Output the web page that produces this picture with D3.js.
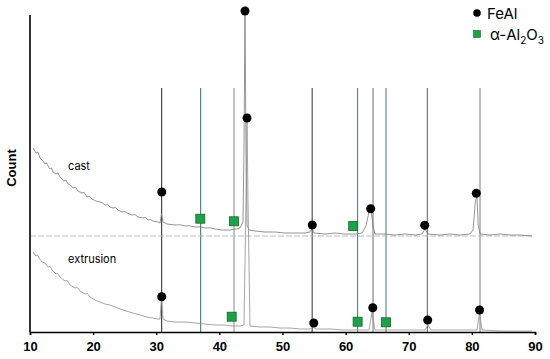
<!DOCTYPE html>
<html>
<head>
<meta charset="utf-8">
<script src="https://cdn.jsdelivr.net/npm/d3@7"></script>
<style>
  body { margin: 0; background: #fff; }
  svg { display: block; }
</style>
</head>
<body>
<script>
// XRD patterns: [2theta, count]
const cast = [
  [10.48,1840],[10.95,1790],[11.27,1800],[11.58,1740],[12.06,1710],[12.38,1680],[12.6,1690],[12.85,1660],
  [13.17,1630],[13.4,1640],[13.64,1600],[14.12,1580],[14.4,1590],[14.75,1550],[15.39,1510],[15.7,1520],
  [16.02,1480],[16.4,1470],[16.81,1440],[17.2,1450],[17.6,1410],[18.24,1390],[18.6,1395],[19.03,1350],
  [19.4,1360],[19.82,1330],[20.46,1310],[21.09,1300],[21.5,1290],[21.88,1270],[22.3,1275],[22.67,1250],
  [23.15,1240],[23.5,1245],[23.94,1220],[24.57,1200],[25.0,1205],[25.37,1190],[26.16,1170],[26.6,1175],
  [27.11,1150],[27.9,1140],[28.3,1145],[28.69,1120],[29.1,1125],[29.49,1110],[30.28,1100],[30.59,1090],
  [30.83,1180],[31.07,1100],[31.7,1080],[32.97,1070],[33.8,1072],[34.55,1060],[35.3,1062],[36.14,1050],
  [37.0,1052],[37.72,1040],[38.5,1042],[39.31,1030],[40.42,1020],[41.68,1020],[42.63,1030],[43.27,1040],
  [43.74,1100],[43.9,1820],[44.06,3210],[44.22,1820],[44.38,1070],[44.69,1020],[45.64,1010],[47.23,1000],
  [48.81,1000],[50.4,990],[51.98,990],[53.56,990],[54.36,1000],[54.67,1030],[54.99,990],[56.73,980],
  [58.32,990],[59.9,980],[61.49,980],[62.59,990],[63.23,1060],[63.7,1200],[64.02,1220],[64.34,1060],
  [64.65,980],[66.24,980],[67.82,970],[69.41,980],[70.99,970],[72.1,980],[72.58,1030],[73.05,980],
  [74.95,970],[76.53,980],[78.12,970],[79.7,980],[80.18,1020],[80.55,1300],[80.81,1360],[81.0,1070],
  [81.3,980],[82.87,970],[84.46,980],[86.04,970],[87.62,970],[89.52,960]
];

const extrusion = [
  [10.48,800],[10.95,760],[11.2,770],[11.43,740],[11.9,700],[12.38,690],[12.85,650],[13.2,655],
  [13.49,620],[14.12,580],[14.4,585],[14.75,550],[15.54,510],[15.9,515],[16.34,470],[17.13,440],
  [17.5,445],[17.92,410],[18.71,380],[19.1,385],[19.5,350],[20.3,320],[21.09,300],[21.88,280],
  [22.67,270],[23.47,250],[24.26,230],[25.21,210],[26.32,190],[27.43,170],[28.53,150],[29.49,140],
  [30.28,130],[30.59,130],[30.83,340],[31.07,130],[31.7,110],[32.97,100],[34.55,100],[36.14,90],
  [37.72,80],[39.31,70],[40.9,70],[42.16,60],[43.27,60],[43.9,70],[44.22,1320],[44.38,2140],
  [44.53,1320],[44.85,60],[46.44,50],[48.02,50],[49.6,40],[51.19,40],[52.77,30],[54.36,30],
  [54.83,50],[55.31,30],[57.52,30],[59.9,20],[62.28,20],[63.7,20],[64.18,200],[64.65,20],
  [67.03,20],[70.2,20],[72.57,20],[73.05,70],[73.52,20],[76.53,20],[79.7,20],[80.81,20],
  [81.21,190],[81.61,20],[84.46,10],[87.62,10],[89.52,10]
];

// reference lines [2theta, phase]
const refLines = [
  [30.86,'FeAl'],[37.04,'Al2O3'],[42.32,'Al2O3'],[54.7,'FeAl'],[61.9,'Al2O3'],
  [64.34,'FeAl'],[66.4,'Al2O3'],[72.94,'FeAl'],[81.29,'FeAl']
];
const lineColors = ['#222','#3a6e57','#8c8c8c','#333','#4a7a64','#6e6e6e','#4a7a64','#5a5a5a','#7a7a7a'];

// peak markers
const feal = [
  [30.87,1400],[44.06,3210],[54.72,1070],[63.97,1233],[72.53,1067],[80.7,1387],
  [30.87,353],[44.38,2140],[54.95,90],[64.3,243],[73.0,120],[81.22,220]
];
const alumina = [
  [36.98,1133],[42.32,1107],[61.2,1060],
  [41.95,153],[61.9,103],[66.4,97]
];
const castBase = 960;
const xTicks = [10,20,30,40,50,60,70,80,90];

const width = 550, height = 359;
const svg = d3.select('body').append('svg')
  .attr('width', width)
  .attr('height', height);

const x = d3.scaleLinear().domain([10, 90]).range([30, 535]);
const y = d3.scaleLinear().domain([0, 3200]).range([332, 12]);

// reference lines
svg.append('g')
  .selectAll('line')
  .data(refLines)
  .enter()
  .append('line')
    .attr('x1', d => x(d[0]))
    .attr('x2', d => x(d[0]))
    .attr('y1', y(2440))
    .attr('y2', y(0))
    .attr('stroke', (d, i) => lineColors[i])
    .attr('stroke-width', 1);

// cast baseline
svg.append('line')
  .attr('x1', x(10)).attr('x2', x(89.5))
  .attr('y1', y(castBase)).attr('y2', y(castBase))
  .attr('stroke', '#b5b5b5')
  .attr('stroke-width', 0.9)
  .attr('stroke-dasharray', '6,2');

const line = d3.line().x(d => x(d[0])).y(d => y(d[1]));

svg.append('path')
  .datum(cast)
  .attr('d', line)
  .attr('fill', 'none')
  .attr('stroke', '#7a7a7a')
  .attr('stroke-width', 0.8);

svg.append('path')
  .datum(extrusion)
  .attr('d', line)
  .attr('fill', 'none')
  .attr('stroke', '#8f8f8f')
  .attr('stroke-width', 0.8);

// axes
svg.append('g')
  .attr('transform', `translate(0,${y(0)})`)
  .call(d3.axisBottom(x).tickValues(xTicks).tickSize(3).tickFormat(d3.format('d')))
  .call(g => g.select('.domain').attr('stroke', '#000').attr('stroke-width', 1.6))
  .call(g => g.selectAll('.tick line').attr('stroke', '#000').attr('stroke-width', 1.4))
  .call(g => g.selectAll('.tick text')
    .attr('y', 10)
    .style('font-family', 'Liberation Sans, Arial, sans-serif')
    .style('font-weight', 'bold')
    .style('font-size', '13px')
    .attr('fill', '#000'));

svg.append('line')
  .attr('x1', x(10)).attr('x2', x(10))
  .attr('y1', 15).attr('y2', y(0))
  .attr('stroke', '#000')
  .attr('stroke-width', 1.6);

svg.append('text')
  .attr('transform', 'translate(16,168) rotate(-90)')
  .attr('text-anchor', 'middle')
  .style('font-family', 'Liberation Sans, Arial, sans-serif')
  .style('font-weight', 'bold')
  .style('font-size', '13px')
  .text('Count');

// markers
svg.append('g')
  .selectAll('circle')
  .data(feal)
  .enter()
  .append('circle')
    .attr('cx', d => x(d[0]))
    .attr('cy', d => y(d[1]))
    .attr('r', 4.5)
    .attr('fill', '#000');

svg.append('g')
  .selectAll('rect')
  .data(alumina)
  .enter()
  .append('rect')
    .attr('x', d => x(d[0]) - 4.5)
    .attr('y', d => y(d[1]) - 4.5)
    .attr('width', 9)
    .attr('height', 9)
    .attr('fill', '#1fa048')
    .attr('stroke', '#0e6a2a')
    .attr('stroke-width', 0.8);

// sample labels
const labelFont = 'Inter, Lato, sans-serif';
svg.append('text').attr('x', 68).attr('y', 170)
  .style('font-family', labelFont).style('font-size', '11px').text('cast');
svg.append('text').attr('x', 68).attr('y', 263)
  .style('font-family', labelFont).style('font-size', '11px').text('extrusion');

// legend
svg.append('circle').attr('cx', 477).attr('cy', 13).attr('r', 3.8).attr('fill', '#000');
svg.append('text').attr('x', 487).attr('y', 18.5)
  .style('font-family', labelFont).style('font-size', '15px').text('FeAl');
svg.append('rect').attr('x', 473.5).attr('y', 30.5).attr('width', 7).attr('height', 7)
  .attr('fill', '#1fa048').attr('stroke', '#0e6a2a').attr('stroke-width', 0.6);
const leg = svg.append('text').attr('x', 490).attr('y', 39.5)
  .style('font-family', labelFont).style('font-size', '15px');
leg.append('tspan').text('α-Al');
leg.append('tspan').attr('dy', 4).style('font-size', '10px').text('2');
leg.append('tspan').attr('dy', -4).text('O');
leg.append('tspan').attr('dy', 4).style('font-size', '10px').text('3');
</script>
</body>
</html>
